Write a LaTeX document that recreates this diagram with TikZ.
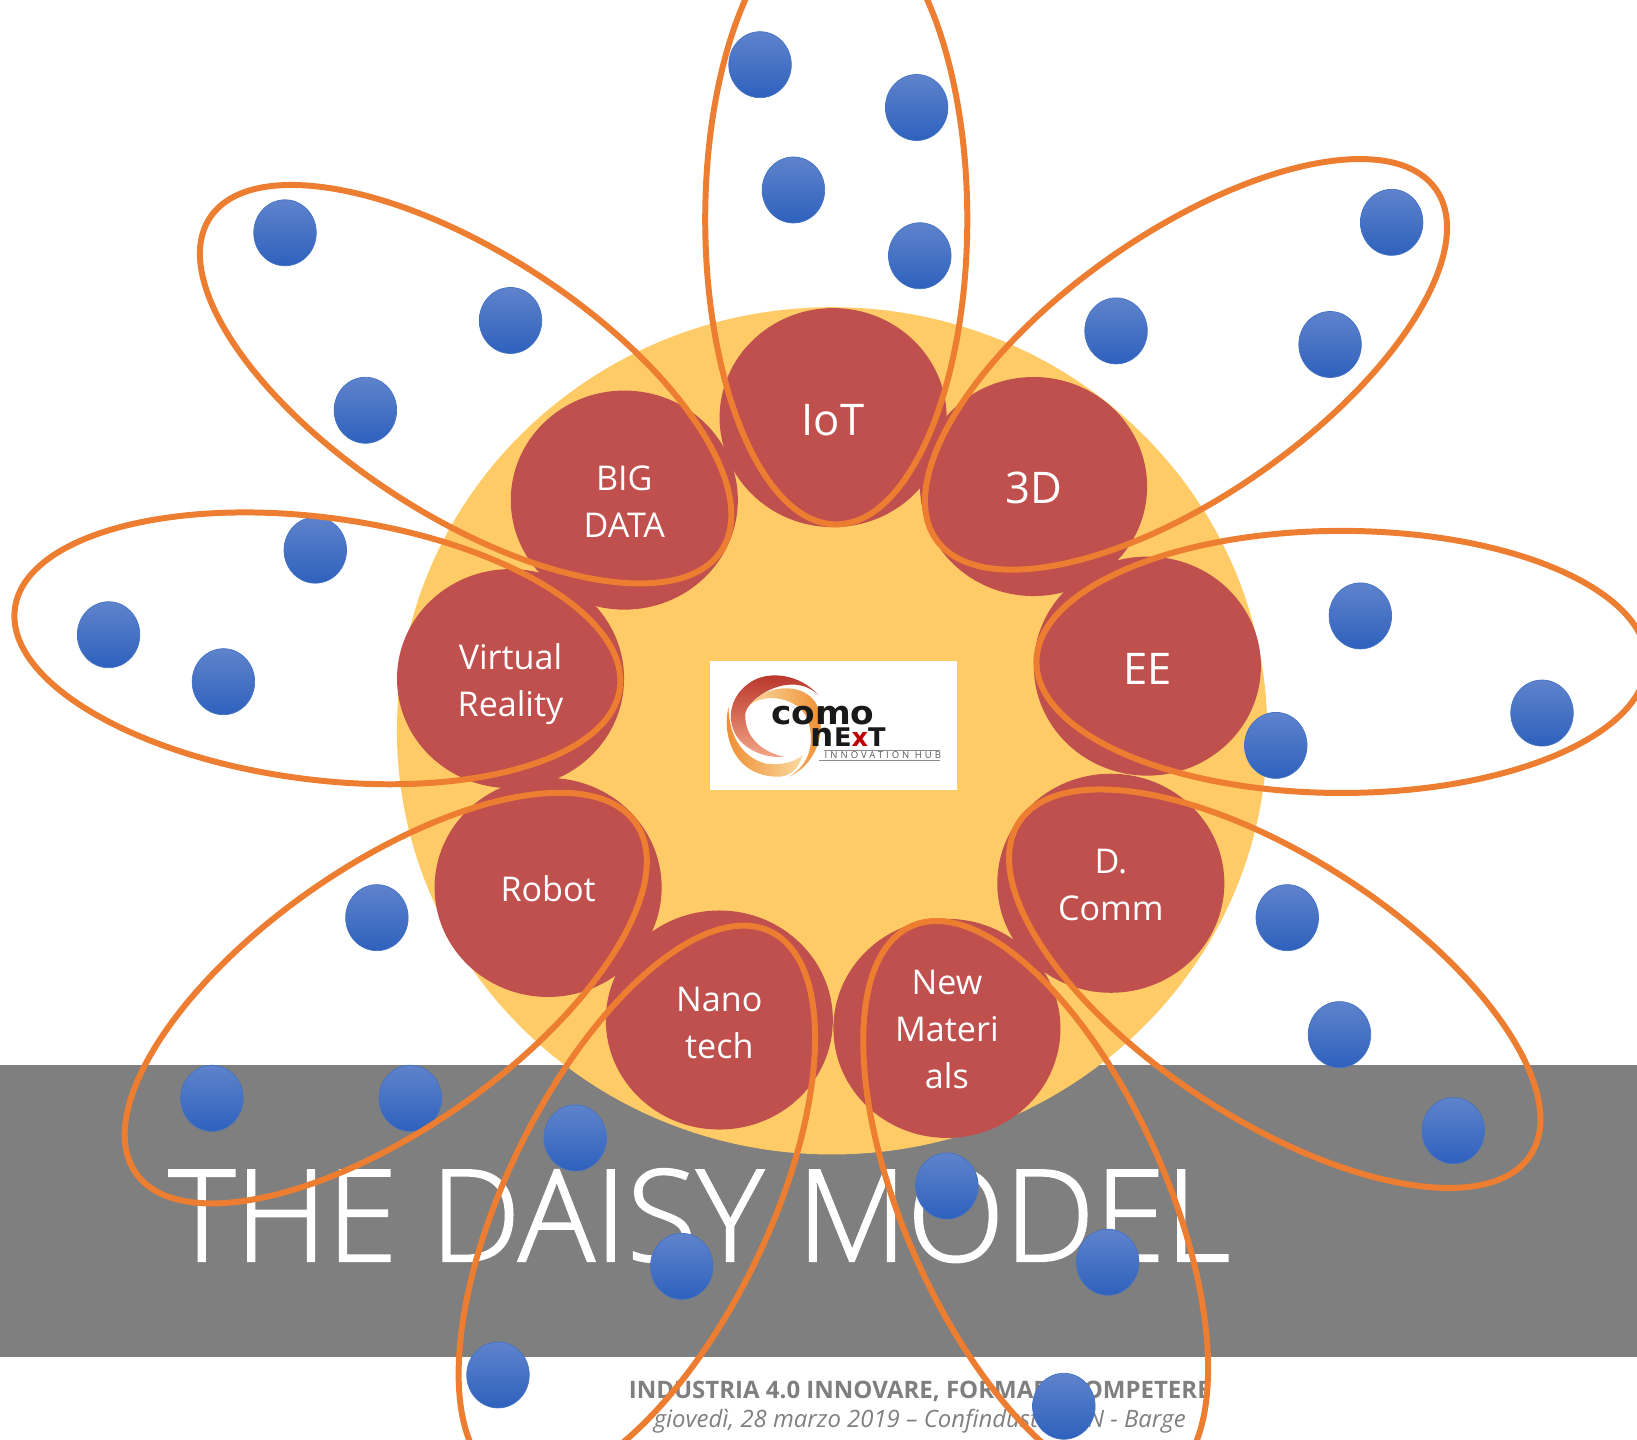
\documentclass[tikz,border=0pt]{standalone}
\usepackage{fontspec}
\usepackage{xcolor}
\usetikzlibrary{shapes.geometric}
\setmainfont{Open Sans}
\newfontfamily\titlefont[FakeBold=1.5]{Open Sans Light}
\newfontfamily\logofont{DejaVu Sans}
\definecolor{petalcol}{HTML}{ED7D31}
\definecolor{discol}{HTML}{FFCB66}
\definecolor{corecol}{HTML}{C0504D}
\definecolor{bandcol}{HTML}{7F7F7F}
\definecolor{seedtop}{HTML}{5F83CC}
\definecolor{seedbot}{HTML}{2E61BD}
\definecolor{seededge}{HTML}{4472C4}
\definecolor{logored}{HTML}{B52E26}
\definecolor{logosalmon}{HTML}{F2A585}
\definecolor{logoorange}{HTML}{EE8A2C}
\definecolor{logomid}{HTML}{F4A438}
\definecolor{logopale}{HTML}{FAD9A0}
\def\lift#1{\rule{0pt}{#1}}
\tikzset{
  core/.style={ellipse,fill=corecol,text=white,minimum width=2.27cm,minimum height=2.19cm,
    inner sep=0,align=center,font=\fontsize{9.7}{13.4}\selectfont},
  seed/.style={ellipse,top color=seedtop,bottom color=seedbot,draw=seededge,line width=0.2pt,
    minimum width=0.625cm,minimum height=0.66cm,inner sep=0,yshift=-0.01cm},
  petal/.style={ellipse,draw=petalcol,line width=1.7pt,minimum width=6.1cm,minimum height=2.62cm,inner sep=0},
}
\begin{document}
\begin{tikzpicture}[x=0.01044cm,y=-0.01044cm]
    \useasboundingbox (0,0) rectangle (1568,1379);

    % band and disc
    \fill[bandcol] (0,1020) rectangle (1568,1300);
    \node[ellipse,fill=discol,minimum width=8.7cm,minimum height=8.47cm,inner sep=0] (disc) at (797,700) {};

    % red centres
    \node[core] (bigdata) at (598,479) {\lift{8.1pt}BIG\\DATA};
    \node[core] (iot) at (798,400) {\fontsize{12.4}{14}\selectfont\lift{10.2pt}IoT};
    \node[core] (threed) at (990,466) {\fontsize{12.4}{14}\selectfont\lift{9.9pt}3D};
    \node[core] (ee) at (1099,638) {\fontsize{12.4}{14}\selectfont\lift{10.6pt}EE};
    \node[core] (dcomm) at (1064,846) {\lift{8.1pt}D.\\Comm};
    \node[core] (newmat) at (907,985) {\lift{7.5pt}New\\Materi\\als};
    \node[core] (nano) at (689,977) {\lift{8.4pt}Nano\\tech};
    \node[core] (robot) at (525,850) {\lift{8pt}Robot};
    \node[core] (virtual) at (489,650) {\lift{10.6pt}Virtual\\Reality};

    % logo
    \node[fill=white,minimum width=2.47cm,minimum height=1.29cm,inner sep=0] (logobox) at (798,694.5) {};
    \begin{scope}[shift={(7.15cm,-6.65cm)},x=0.00333cm,y=-0.00333cm]
        \shade[left color=logoorange,middle color=logomid,right color=logopale]
            (40,125) .. controls (20,200) and (50,335) .. (190,335)
            .. controls (215,335) and (250,320) .. (262,270)
            .. controls (250,285) and (200,305) .. (150,295)
            .. controls (90,280) and (40,220) .. (40,125) -- cycle;
        \shade[left color=logopale,middle color=logomid,right color=logoorange]
            (98,125) .. controls (130,70) and (250,40) .. (300,110)
            .. controls (335,170) and (320,290) .. (222,335)
            .. controls (280,300) and (300,240) .. (280,170)
            .. controls (260,100) and (150,75) .. (98,125) -- cycle;
        \shade[top color=logored,middle color=logored!70!logosalmon,bottom color=logosalmon]
            (310,90) .. controls (260,30) and (160,10) .. (100,55)
            .. controls (30,105) and (30,200) .. (95,245)
            .. controls (130,270) and (170,278) .. (205,275)
            .. controls (150,262) and (90,225) .. (90,150)
            .. controls (90,100) and (230,10) .. (310,90) -- cycle;
        \node[inner sep=0,text=black!90,xscale=1.05,text height=5.2pt,text depth=0pt,
            font=\logofont\bfseries\fontsize{9.3}{9.3}\selectfont] (como) at (323,152) {como};
        \node[inner sep=0,text=black!90,font=\logofont\bfseries\fontsize{9.3}{9.3}\selectfont,anchor=base west] (nexttext) at (285,243)
            {n{\fontsize{7.3}{7.3}\selectfont E\textcolor{red!75!black}{x}T}};
        \node[inner sep=0,text=black!65,font=\fontsize{2.7}{3}\selectfont,anchor=west] (hub) at (327,270)
            {\addfontfeatures{LetterSpace=32}INNOVATION HUB};
        \coordinate (hubl) at (313,286);
        \coordinate (hubr) at (676,286);
        \coordinate (hubtl) at (327,256);
        \coordinate (hubtr) at (676,256);
        \draw[black!45,line width=0.25pt] (hubl) -- (hubr);
        \draw[black!45,line width=0.25pt] (hubtl) -- (hubtr);
    \end{scope}

    % texts
    \node[text=white,inner sep=0,anchor=base,font=\titlefont\fontsize{36.3}{40}\selectfont] (title) at (670,1208) {THE DAISY MODEL};
    \node[text=bandcol,inner sep=0,anchor=base,font=\bfseries\fontsize{6.83}{8}\selectfont] (event) at (881,1340) {INDUSTRIA 4.0 INNOVARE, FORMARE COMPETERE};
    \node[text=bandcol,inner sep=0,anchor=base,font=\itshape\fontsize{6.8}{8}\selectfont] (place) at (881,1367.5) {giovedì, 28 marzo 2019 – Confindustria CN - Barge};

    % seeds
    \node[seed] (s11) at (728,61) {};
    \node[seed] (s12) at (878,102) {};
    \node[seed] (s13) at (760,181) {};
    \node[seed] (s14) at (881,244) {};
    \node[seed] (s21) at (1333,212) {};
    \node[seed] (s22) at (1069,316) {};
    \node[seed] (s23) at (1274,329) {};
    \node[seed] (s31) at (1303,589) {};
    \node[seed] (s32) at (1222,713) {};
    \node[seed] (s33) at (1477,682) {};
    \node[seed] (s41) at (1233,878) {};
    \node[seed] (s42) at (1283,990) {};
    \node[seed] (s43) at (1392,1082) {};
    \node[seed] (s51) at (907,1135) {};
    \node[seed] (s52) at (1061,1208) {};
    \node[seed] (s53) at (1019,1346) {};
    \node[seed] (s61) at (551,1089) {};
    \node[seed] (s62) at (653,1212) {};
    \node[seed] (s63) at (477,1316) {};
    \node[seed] (s71) at (203,1051) {};
    \node[seed] (s72) at (393,1051) {};
    \node[seed] (s73) at (361,878) {};
    \node[seed] (s81) at (104,607) {};
    \node[seed] (s82) at (214,652) {};
    \node[seed] (s83) at (302,526) {};
    \node[seed] (s91) at (273,222) {};
    \node[seed] (s92) at (489,306) {};
    \node[seed] (s93) at (350,392) {};

    % petals
    \node[petal,rotate=90] (petaliot) at (801,210) {};
    \node[petal,rotate=35] (petalthreed) at (1136,349) {};
    \node[petal] (petalee) at (1285,634) {};
    \node[petal,rotate=-33] (petaldcomm) at (1221,947) {};
    \node[petal,rotate=-66] (petalnewmat) at (992,1154) {};
    \node[petal,rotate=64] (petalnano) at (610,1155) {};
    \node[petal,rotate=35] (petalrobot) at (369.5,956) {};
    \node[petal,rotate=-7.5] (petalvirtual) at (304,621) {};
    \node[petal,rotate=-33] (petalbigdata) at (446,368) {};
\end{tikzpicture}
\end{document}
